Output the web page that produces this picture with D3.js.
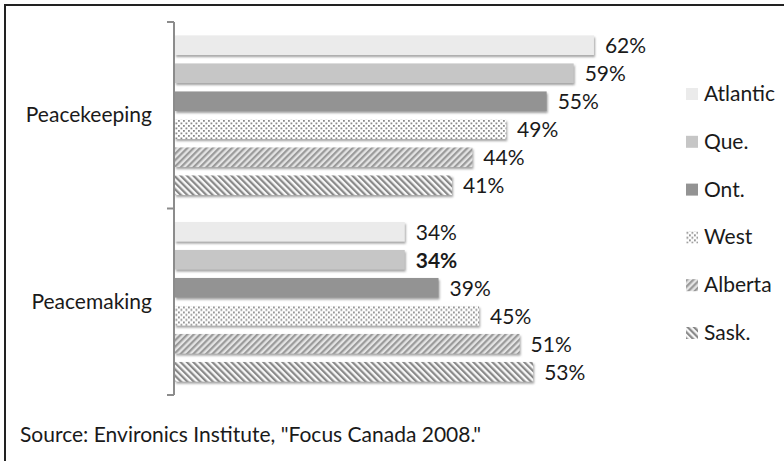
<!DOCTYPE html>
<html>
<head>
<meta charset="utf-8">
<script src="https://cdn.jsdelivr.net/npm/d3@7"></script>
<style>
  body { margin: 0; background: #fff; }
  text { font-family: Lato, "Open Sans", sans-serif; fill: #1a1a1a; }
</style>
</head>
<body>
<div id="chart"></div>
<script>
// Data
const categories = ["Peacekeeping", "Peacemaking"];
const regions = ["Atlantic", "Que.", "Ont.", "West", "Alberta", "Sask."];
const peacekeeping = [62, 59, 55, 49, 44, 41];
const peacemaking = [34, 34, 39, 45, 51, 53];
const source = "Source: Environics Institute, \"Focus Canada 2008.\"";

const values = {Peacekeeping: peacekeeping, Peacemaking: peacemaking};

const W = 784, H = 461;
const svg = d3.select("#chart").append("svg")
  .attr("width", W)
  .attr("height", H);

const defs = svg.append("defs");

// drop shadow for bars
const f = defs.append("filter").attr("id", "shadow")
  .attr("x", "-5%").attr("y", "-20%").attr("width", "110%").attr("height", "160%");
f.append("feDropShadow")
  .attr("dx", 1).attr("dy", 2).attr("stdDeviation", 0.8)
  .attr("flood-color", "#777").attr("flood-opacity", 0.7);

// patterns
const dots = defs.append("pattern").attr("id", "p-west")
  .attr("patternUnits", "userSpaceOnUse").attr("width", 5).attr("height", 5);
dots.append("rect").attr("width", 5).attr("height", 5).attr("fill", "#fff");
dots.append("rect").attr("x", 0.5).attr("y", 0.5).attr("width", 1.8).attr("height", 1.8).attr("fill", "#8a8a8a");
dots.append("rect").attr("x", 3).attr("y", 3).attr("width", 1.8).attr("height", 1.8).attr("fill", "#8a8a8a");

function stripes(id, angle, bg, fg, w) {
  const p = defs.append("pattern").attr("id", id)
    .attr("patternUnits", "userSpaceOnUse").attr("width", 4.5).attr("height", 4.5)
    .attr("patternTransform", `rotate(${angle})`);
  p.append("rect").attr("width", 4.5).attr("height", 4.5).attr("fill", bg);
  p.append("rect").attr("width", w).attr("height", 4.5).attr("fill", fg);
}
stripes("p-alberta", 45, "#e4e4e4", "#9a9a9a", 2.2);
stripes("p-sask", -45, "#f8f8f8", "#888", 2.2);

const fills = ["#ebebeb", "#c6c6c6", "#939393", "url(#p-west)", "url(#p-alberta)", "url(#p-sask)"];
const color = d3.scaleOrdinal().domain(regions).range(fills);

// outer frame (top and left)
svg.append("path")
  .attr("d", `M5,${H} V5 H${W}`)
  .attr("fill", "none").attr("stroke", "#222").attr("stroke-width", 2);

// Scales
const x = d3.scaleLinear().domain([0, 70]).range([175, 648]);
const y0 = d3.scaleBand().domain(categories).range([22, 395]);
const y1 = d3.scaleBand().domain(regions).range([0, y0.bandwidth()])
  .paddingInner(0.3).paddingOuter(0.48);

// category axis
const axis = svg.append("g")
  .attr("transform", "translate(174,0)");
axis.append("line")
  .attr("y1", y0.range()[0]).attr("y2", y0.range()[1])
  .attr("stroke", "#8c8c8c").attr("stroke-width", 2);
const tickYs = categories.map(c => y0(c)).concat([y0.range()[1]]);
axis.selectAll(".tk").data(tickYs).join("line")
  .attr("x1", -7).attr("x2", 0)
  .attr("y1", d => d).attr("y2", d => d)
  .attr("stroke", "#8c8c8c").attr("stroke-width", 2);

svg.selectAll(".cat").data(categories).join("text")
  .attr("x", 152)
  .attr("y", d => y0(d) + y0.bandwidth() / 2 + 7)
  .attr("text-anchor", "end")
  .style("font-size", "21px")
  .text(d => d);

// bars
const groups = svg.selectAll(".grp").data(categories).join("g")
  .attr("transform", d => `translate(0,${y0(d)})`);

groups.selectAll("rect")
  .data(c => regions.map((r, i) => ({cat: c, region: r, value: values[c][i]})))
  .join("rect")
  .attr("x", x(0))
  .attr("y", d => y1(d.region))
  .attr("width", d => x(d.value) - x(0))
  .attr("height", y1.bandwidth())
  .attr("fill", d => color(d.region))
  .attr("filter", "url(#shadow)");

groups.selectAll(".lbl")
  .data(c => regions.map((r, i) => ({cat: c, region: r, value: values[c][i]})))
  .join("text")
  .attr("x", d => x(d.value) + 11)
  .attr("y", d => y1(d.region) + y1.bandwidth() / 2 + 8)
  .style("font-size", "21px")
  .style("font-weight", d => (d.cat === "Peacemaking" && d.region === "Que.") ? "bold" : "normal")
  .text(d => d.value + "%");

// legend
const legend = svg.append("g").attr("transform", "translate(686,88)");
const li = legend.selectAll("g").data(regions).join("g")
  .attr("transform", (d, i) => `translate(0,${i * 47.8})`);
li.append("rect")
  .attr("width", 12).attr("height", 12)
  .attr("fill", d => color(d));
li.append("text")
  .attr("x", 18).attr("y", 13)
  .style("font-size", "21px")
  .text(d => d);

// source note
svg.append("text")
  .attr("x", 20).attr("y", 442)
  .style("font-size", "21px")
  .text(source);
</script>
</body>
</html>
